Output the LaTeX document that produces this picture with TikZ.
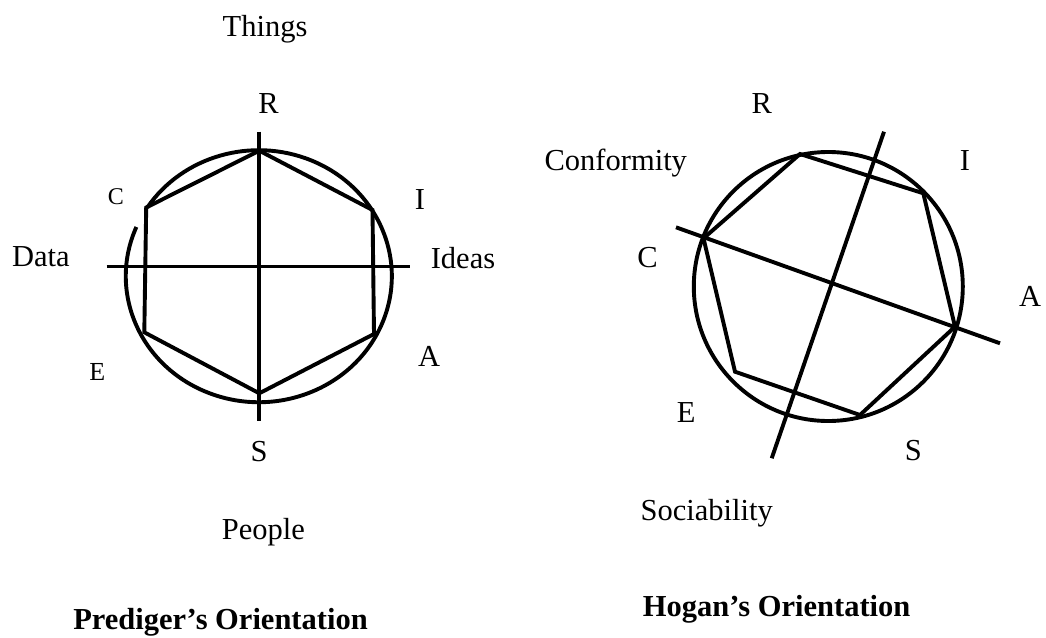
\documentclass[tikz,border=0pt]{standalone}
\usepackage{fontspec}
\setmainfont{Liberation Serif}
\begin{document}
\begin{tikzpicture}[x=1pt,y=-1pt,
  ln/.style={line width=3.9pt},
  lbl/.style={anchor=base,inner sep=0pt,font=\fontsize{30.5}{36}\selectfont},
  slbl/.style={anchor=base,inner sep=0pt,font=\fontsize{24}{28}\selectfont},
  mlbl/.style={anchor=base,inner sep=0pt,font=\fontsize{26}{30}\selectfont},
  ttl/.style={anchor=base,inner sep=0pt,font=\fontsize{30.5}{36}\selectfont\bfseries}]
\useasboundingbox (0,0) rectangle (1046,637);

% ---------- Prediger ----------
\coordinate (pc) at (258.8,276.2);
\coordinate (pR) at (259.3,150.7);
\coordinate (pI) at (372.5,210);
\coordinate (pA) at (374,334);
\coordinate (pS) at (259.3,393.3);
\coordinate (pE) at (144.3,332.3);
\coordinate (pC) at (146.2,207.5);
\coordinate (pvt) at (259.3,131.7);
\coordinate (pvb) at (259.3,420.7);
\coordinate (phl) at (106.7,266.5);
\coordinate (phr) at (410,266.5);

% circle with a small gap near C
\draw[ln] (pc) ++(157:133 and -126) arc[start angle=157,end angle=507,x radius=133,y radius=-126];
\draw[ln] (pR) -- (pI) -- (pA) -- (pS) -- (pE) -- (pC) -- cycle;
\draw[ln] (pvt) -- (pvb);
\draw[ln] (phl) -- (phr);

\node[lbl] (things) at (265,36) {Things};
\node[lbl] (lR) at (268.5,113.3) {R};
\node[slbl] (lC) at (115.8,204) {C};
\node[lbl] (lI) at (420,209.3) {I};
\node[lbl] (data) at (40.8,266.7) {Data};
\node[lbl] (ideas) at (463,268.3) {Ideas};
\node[mlbl] (lE) at (97.2,380) {E};
\node[lbl] (lA) at (429.2,366) {A};
\node[lbl] (lS) at (259.2,461.7) {S};
\node[lbl] (people) at (263.3,539.3) {People};
\node[ttl] (pt) at (220.5,629.3) {Prediger’s Orientation};

% ---------- Hogan ----------
\coordinate (hc) at (828.3,286.5);
\coordinate (hR) at (800,154);
\coordinate (hI) at (923.3,193.3);
\coordinate (hA) at (955,326.7);
\coordinate (hS) at (860,415);
\coordinate (hE) at (735,371.7);
\coordinate (hC) at (703.5,238.3);
\coordinate (h1a) at (676,227.3);
\coordinate (h1b) at (1000,343.3);
\coordinate (h2a) at (884,131.7);
\coordinate (h2b) at (771.7,458.3);

\draw[ln] (hc) circle[radius=134.5];
\draw[ln] (hR) -- (hI) -- (hA) -- (hS) -- (hE) -- (hC) -- cycle;
\draw[ln] (h1a) -- (h1b);
\draw[ln] (h2a) -- (h2b);

\node[lbl] (rR) at (761.8,113.3) {R};
\node[lbl] (conf) at (615.8,170.7) {Conformity};
\node[lbl] (rI) at (965,170.7) {I};
\node[lbl] (rC) at (647.5,267.3) {C};
\node[lbl] (rA) at (1030,306) {A};
\node[lbl] (rE) at (686.2,422.7) {E};
\node[lbl] (rS) at (913.3,460.7) {S};
\node[lbl] (soc) at (706.7,520) {Sociability};
\node[ttl] (ht) at (776.7,616) {Hogan’s Orientation};
\end{tikzpicture}
\end{document}
